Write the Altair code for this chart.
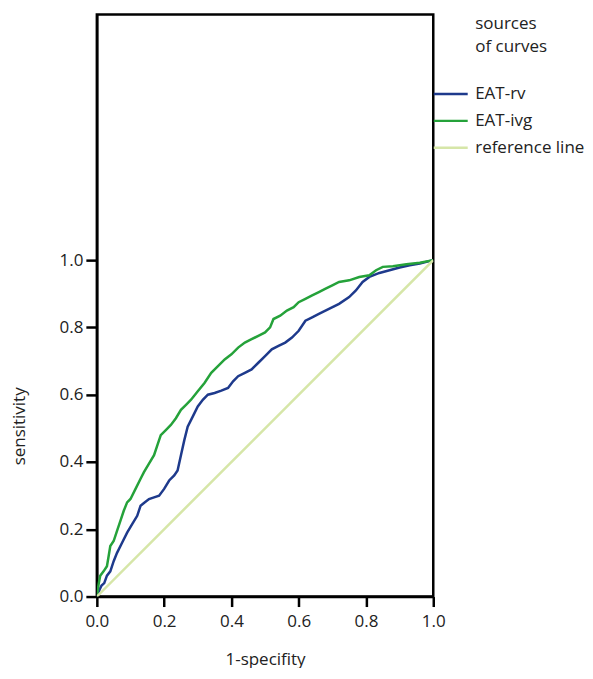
import altair as alt
import pandas as pd

# EAT-rv ROC curve (1-specificity, sensitivity)
rv_x = [0.000, 0.008, 0.014, 0.022, 0.030, 0.040, 0.050, 0.060, 0.075, 0.090, 0.105, 0.120,
        0.130, 0.140, 0.155, 0.170, 0.185, 0.200, 0.215, 0.230, 0.240, 0.250, 0.260, 0.270,
        0.285, 0.300, 0.315, 0.330, 0.350, 0.370, 0.390, 0.405, 0.420, 0.440, 0.460, 0.480,
        0.500, 0.520, 0.540, 0.560, 0.580, 0.600, 0.620, 0.640, 0.660, 0.690, 0.720, 0.750,
        0.770, 0.790, 0.810, 0.840, 0.870, 0.900, 0.930, 0.960, 1.000]
rv_y = [0.000, 0.020, 0.033, 0.040, 0.062, 0.075, 0.105, 0.130, 0.160, 0.190, 0.215, 0.240,
        0.270, 0.278, 0.290, 0.295, 0.300, 0.320, 0.345, 0.360, 0.375, 0.420, 0.465, 0.505,
        0.535, 0.565, 0.585, 0.600, 0.605, 0.612, 0.620, 0.640, 0.655, 0.665, 0.675, 0.695,
        0.715, 0.735, 0.745, 0.755, 0.770, 0.790, 0.820, 0.830, 0.840, 0.855, 0.870, 0.890,
        0.910, 0.935, 0.950, 0.962, 0.970, 0.978, 0.985, 0.990, 1.000]

# EAT-ivg ROC curve
ivg_x = [0.000, 0.005, 0.010, 0.020, 0.030, 0.035, 0.040, 0.050, 0.060, 0.070, 0.080, 0.090,
         0.100, 0.115, 0.130, 0.140, 0.155, 0.170, 0.180, 0.190, 0.205, 0.220, 0.235, 0.250,
         0.265, 0.280, 0.300, 0.320, 0.340, 0.360, 0.380, 0.400, 0.420, 0.440, 0.460, 0.480,
         0.500, 0.515, 0.525, 0.545, 0.565, 0.585, 0.600, 0.620, 0.640, 0.660, 0.680, 0.700,
         0.720, 0.750, 0.780, 0.810, 0.830, 0.850, 0.880, 0.920, 0.960, 1.000]
ivg_y = [0.000, 0.035, 0.062, 0.075, 0.090, 0.120, 0.150, 0.165, 0.195, 0.225, 0.255, 0.280,
         0.290, 0.320, 0.350, 0.370, 0.395, 0.420, 0.450, 0.480, 0.495, 0.510, 0.530, 0.555,
         0.570, 0.585, 0.610, 0.635, 0.665, 0.685, 0.705, 0.720, 0.740, 0.755, 0.765, 0.775,
         0.785, 0.800, 0.825, 0.835, 0.850, 0.860, 0.875, 0.885, 0.895, 0.905, 0.915, 0.925,
         0.935, 0.940, 0.950, 0.955, 0.970, 0.980, 0.982, 0.988, 0.992, 1.000]

ref_x = [0.0, 1.0]
ref_y = [0.0, 1.0]

series_names = ["EAT-rv", "EAT-ivg", "reference line"]
series_colors = ["#1e3a8c", "#25a23a", "#d6e6a8"]
legend_title = ["sources", "of curves"]
tick_values = [0.0, 0.2, 0.4, 0.6, 0.8, 1.0]

rows = []
for name, xs, ys in zip(series_names, [rv_x, ivg_x, ref_x], [rv_y, ivg_y, ref_y]):
    for i, (a, b) in enumerate(zip(xs, ys)):
        rows.append({"series": name, "order": i, "fpr": a, "tpr": b})
df = pd.DataFrame(rows)

FONT = "Open Sans"

x_scale = alt.Scale(domain=[0, 1], nice=False, zero=False)
y_scale = alt.Scale(domain=[0, 1.73], nice=False)
x_axis = alt.Axis(values=tick_values, format=".1f", title="1-specifity",
                  titleX=168.5, titleY=68, titleBaseline="alphabetic",
                  titleAlign="center", labelPadding=7, labelFlush=False,
                  ticks=True, tickSize=10, tickWidth=2.5, tickColor="black")
y_axis = alt.Axis(values=tick_values, format=".1f", title="sensitivity",
                  titleX=-77, titleY=412, titleBaseline="middle",
                  titleAlign="center", titleAngle=270, labelPadding=3,
                  labelFlush=False, ticks=True, tickSize=11, tickWidth=2.5,
                  tickColor="black")

lines = alt.Chart(df).mark_line(strokeWidth=2.5, clip=True).encode(
    x=alt.X("fpr:Q", scale=x_scale, axis=x_axis),
    y=alt.Y("tpr:Q", scale=y_scale, axis=y_axis),
    color=alt.Color("series:N",
                    scale=alt.Scale(domain=series_names, range=series_colors),
                    legend=alt.Legend(title=None, orient="none", legendX=336, legendY=61,
                                      symbolType="stroke", symbolSize=1156,
                                      symbolStrokeWidth=2.5, labelOffset=6,
                                      labelFontSize=17, labelFont=FONT,
                                      labelColor="#222222", rowPadding=-7.5)),
    order="order:Q",
    detail="series:N",
)

title_text = alt.Chart(alt.Data(values=[{"k": 1}])).mark_text(
    text=legend_title, align="left", baseline="middle", fontSize=17, font=FONT,
    lineHeight=24, color="#222222"
).encode(x=alt.value(379), y=alt.value(9))

chart = alt.layer(lines, title_text).properties(
    width=337, height=583,
    padding={"left": 3, "top": 6, "right": 0, "bottom": 0},
).configure_view(
    stroke="black", strokeWidth=2.5
).configure_axis(
    grid=False, domainColor="black", domainWidth=2.5, labelFont=FONT, titleFont=FONT,
    labelFontSize=17, titleFontSize=17, labelColor="#222222", titleColor="#222222",
    titleFontWeight="normal"
)

chart.save("out.html", embed_options={"renderer": "svg", "actions": False})
